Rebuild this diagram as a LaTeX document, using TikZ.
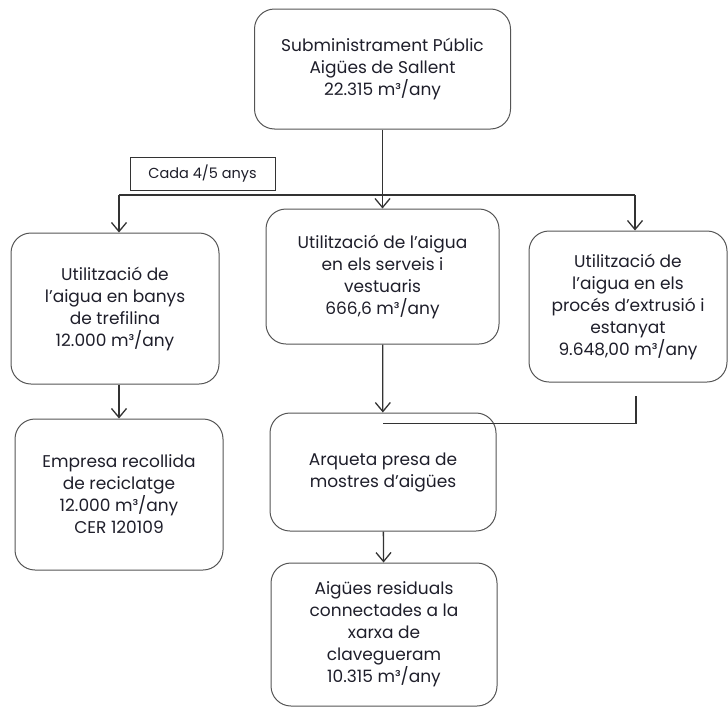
\documentclass[tikz,border=0pt]{standalone}
\usepackage{fontspec}
\setmainfont{Poppins}
\usepackage{xcolor}
\usepackage{tikz}
\usetikzlibrary{arrows.meta, positioning}

\definecolor{txtcol}{RGB}{30,30,42}
\definecolor{edgecol}{RGB}{85,85,85}

\begin{document}
\begin{tikzpicture}[
    x=1pt, y=-1pt,
    >={Straight Barb[length=9pt, width=15pt, line width=1.3pt]},
    flowbox/.style={
        rectangle, rounded corners=20pt, draw=edgecol, line width=1pt,
        align=center, text=txtcol, inner sep=0pt,
        font=\fontsize{17}{22}\selectfont
    },
    notebox/.style={
        rectangle, draw=black!80, line width=1pt, align=center,
        text=txtcol, inner sep=0pt, font=\fontsize{14.5}{16}\selectfont
    },
    arrow/.style={->, line width=1.3pt, black!80},
    link/.style={line width=1.3pt, black!80},
]
\useasboundingbox (0,0) rectangle (728,707);

% Supply
\node[flowbox, minimum width=256pt, minimum height=120pt] (supply) at (382.5,69)
    {Subministrament Públic\\Aigües de Sallent\\22.315 m³/any};
\node[notebox, minimum width=145pt, minimum height=33pt] (cada) at (202.5,173.5)
    {Cada 4/5 anys};

% Uses of water
\node[flowbox, minimum width=208pt, minimum height=151pt] (banys) at (115,308.5)
    {Utilització de\\l’aigua en banys\\de trefilina\\12.000 m³/any};
\node[flowbox, minimum width=233pt, minimum height=135pt] (serveis) at (382.5,276.5)
    {Utilització de l’aigua\\en els serveis i\\vestuaris\\666,6 m³/any};
\node[flowbox, minimum width=198pt, minimum height=151pt] (extrusio) at (628,306.5)
    {Utilització de\\l’aigua en els\\procés d’extrusió i\\estanyat\\9.648,00 m³/any};

% Destinations
\node[flowbox, minimum width=208pt, minimum height=151pt] (reciclatge) at (119,494.5)
    {Empresa recollida\\de reciclatge\\12.000 m³/any\\CER 120109};
\node[flowbox, minimum width=226pt, minimum height=118pt] (arqueta) at (383,472)
    {Arqueta presa de\\mostres d’aigües};
\node[flowbox, minimum width=226pt, minimum height=143pt] (residuals) at (384,634.5)
    {Aigües residuals\\connectades a la\\xarxa de\\clavegueram\\10.315 m³/any};

% Distribution line
\coordinate (lj) at (119,195);
\coordinate (rj) at (635,195);
\coordinate (ej) at (636,396);
\draw[link] (lj) -- (rj);
\draw[arrow] (supply) -- (serveis);
\draw[arrow] (lj) -- (lj |- banys.north);
\draw[arrow] (rj) -- (rj |- extrusio.north);

% Flows downwards
\draw[arrow] (reciclatge.north |- banys.south) -- (reciclatge.north);
\draw[arrow] (serveis) -- (arqueta);
\draw[link] (ej) |- ([yshift=-11pt]arqueta.north);
\draw[arrow] (arqueta) -- (residuals);

\end{tikzpicture}
\end{document}
